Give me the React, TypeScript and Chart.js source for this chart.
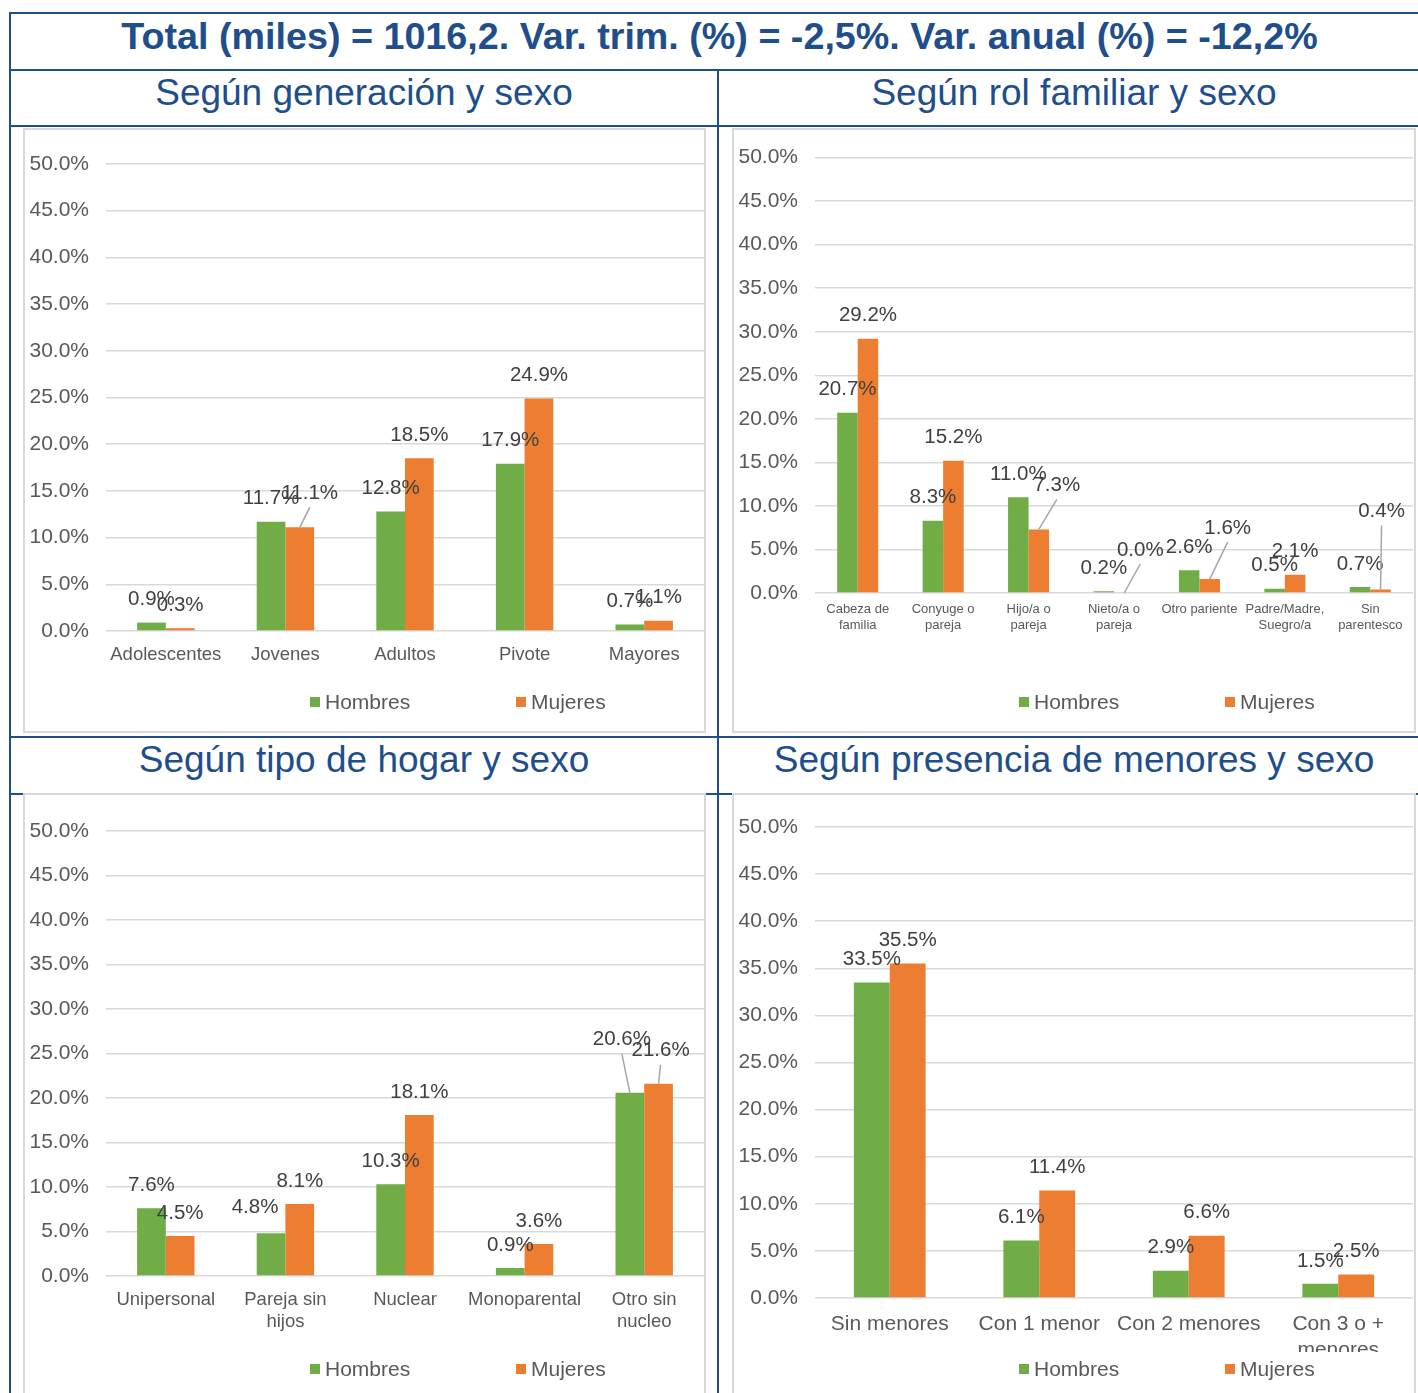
import React, { useEffect, useRef } from "react";
import { Chart, registerables } from "chart.js";

Chart.register(...registerables);

const FONT = "'Liberation Sans', Arial, Helvetica, sans-serif";
const BLUE = "#1F4E8C";
const GREEN = "#70AD47";
const ORANGE = "#ED7D31";
const AXIS_TEXT = "#595959";
const LABEL_TEXT = "#404040";
const GRID = "#D9D9D9";

// ---------- DATA ----------
const titleText = "Total (miles) = 1016,2. Var. trim. (%) = -2,5%. Var. anual (%) = -12,2%";
const seriesNames = ["Hombres", "Mujeres"];

const generacionTitle = "Según generación y sexo";
const generacionCategories = ["Adolescentes", "Jovenes", "Adultos", "Pivote", "Mayores"];
const generacionHombres = [0.9, 11.7, 12.8, 17.9, 0.7];
const generacionMujeres = [0.3, 11.1, 18.5, 24.9, 1.1];

const rolTitle = "Según rol familiar y sexo";
const rolCategories = [
  ["Cabeza de", "familia"],
  ["Conyuge o", "pareja"],
  ["Hijo/a o", "pareja"],
  ["Nieto/a o", "pareja"],
  "Otro pariente",
  ["Padre/Madre,", "Suegro/a"],
  ["Sin", "parentesco"],
];
const rolHombres = [20.7, 8.3, 11.0, 0.2, 2.6, 0.5, 0.7];
const rolMujeres = [29.2, 15.2, 7.3, 0.0, 1.6, 2.1, 0.4];

const hogarTitle = "Según tipo de hogar y sexo";
const hogarCategories = ["Unipersonal", ["Pareja sin", "hijos"], "Nuclear", "Monoparental", ["Otro sin", "nucleo"]];
const hogarHombres = [7.6, 4.8, 10.3, 0.9, 20.6];
const hogarMujeres = [4.5, 8.1, 18.1, 3.6, 21.6];

const menoresTitle = "Según presencia de menores y sexo";
const menoresCategories = ["Sin menores", "Con 1 menor", "Con 2 menores", ["Con 3 o +", "menores"]];
const menoresHombres = [33.5, 6.1, 2.9, 1.5];
const menoresMujeres = [35.5, 11.4, 6.6, 2.5];

const yMin = 0;
const yMax = 50;
const yStep = 5;

// ---------- PLUGINS ----------
const valueLabelsPlugin = {
  id: "valueLabels",
  afterDatasetsDraw(chart: any, _args: any, opts: any) {
    const ctx = chart.ctx;
    ctx.save();
    ctx.font = `${opts.size}px ${FONT}`;
    ctx.textAlign = "center";
    ctx.textBaseline = "middle";
    chart.data.datasets.forEach((ds: any, di: number) => {
      const meta = chart.getDatasetMeta(di);
      meta.data.forEach((bar: any, i: number) => {
        const v = ds.data[i];
        const n = (opts.nudges || {})[`${di}-${i}`];
        const dx = n ? n[0] : 0;
        const dy = n ? n[1] : 0;
        const lx = bar.x + dx;
        const ly = bar.y - opts.gap + dy;
        if (n && n[2]) {
          ctx.strokeStyle = "#A6A6A6";
          ctx.lineWidth = 1.5;
          ctx.beginPath();
          ctx.moveTo(bar.x, bar.y);
          ctx.lineTo(lx, ly + 14);
          ctx.stroke();
        }
        ctx.fillStyle = LABEL_TEXT;
        ctx.fillText(`${Number(v).toFixed(1)}%`, lx, ly);
      });
    });
    ctx.restore();
  },
};

const sexLegendPlugin = {
  id: "sexLegend",
  afterDraw(chart: any, _args: any, opts: any) {
    const ctx = chart.ctx;
    ctx.save();
    ctx.font = `${opts.size}px ${FONT}`;
    ctx.textAlign = "left";
    ctx.textBaseline = "middle";
    chart.data.datasets.forEach((ds: any, di: number) => {
      const x = opts.xs[di];
      ctx.fillStyle = ds.backgroundColor;
      ctx.fillRect(x, opts.y - 5, 10, 10);
      ctx.fillStyle = AXIS_TEXT;
      ctx.fillText(ds.label, x + 15, opts.y + 1);
    });
    ctx.restore();
  },
};

Chart.register(valueLabelsPlugin as any, sexLegendPlugin as any);

type Cfg = {
  left: number;
  top: number;
  w: number;
  h: number;
  areaTop: number;
  areaBottom: number;
  xFont: number;
  xPad: number;
  xHeight: number;
  nudges: Record<string, [number, number, boolean]>;
};

function BarPanel({ categories, hombres, mujeres, cfg }: { categories: any[]; hombres: number[]; mujeres: number[]; cfg: Cfg }) {
  const ref = useRef<HTMLCanvasElement | null>(null);
  useEffect(() => {
    if (!ref.current) return;
    const padBottom = cfg.h - cfg.areaBottom - cfg.xHeight;
    const chart = new Chart(ref.current, {
      type: "bar",
      data: {
        labels: categories,
        datasets: [
          { label: seriesNames[0], data: hombres, backgroundColor: GREEN, categoryPercentage: 0.48, barPercentage: 1 },
          { label: seriesNames[1], data: mujeres, backgroundColor: ORANGE, categoryPercentage: 0.48, barPercentage: 1 },
        ],
      },
      options: {
        responsive: false,
        animation: false,
        devicePixelRatio: 1,
        layout: { padding: { top: cfg.areaTop, right: 1, bottom: padBottom, left: 0 } },
        plugins: {
          legend: { display: false },
          tooltip: { enabled: false },
          valueLabels: { size: 20.5, gap: 23, nudges: cfg.nudges },
          sexLegend: { size: 21, xs: [286, 492], y: 574 },
        } as any,
        scales: {
          x: {
            grid: { display: false, drawTicks: false },
            border: { display: false },
            ticks: {
              color: AXIS_TEXT,
              font: { family: FONT, size: cfg.xFont },
              padding: cfg.xPad,
              maxRotation: 0,
              minRotation: 0,
              autoSkip: false,
            },
            afterFit: (s: any) => {
              s.height = cfg.xHeight;
            },
          },
          y: {
            min: yMin,
            max: yMax,
            ticks: {
              stepSize: yStep,
              color: AXIS_TEXT,
              font: { family: FONT, size: 21 },
              padding: 17,
              callback: (v: any) => `${Number(v).toFixed(1)}%`,
            },
            grid: { color: GRID, lineWidth: 1.5, drawTicks: false },
            border: { display: false },
            afterFit: (s: any) => {
              s.width = 82;
            },
          },
        },
      } as any,
    });
    return () => chart.destroy();
  }, []);
  return (
    <canvas
      ref={ref}
      width={cfg.w}
      height={cfg.h}
      style={{ position: "absolute", left: cfg.left, top: cfg.top, width: cfg.w, height: cfg.h }}
    />
  );
}

function HLine({ x, y, w, h }: { x: number; y: number; w: number; h: number }) {
  return <div style={{ position: "absolute", left: x, top: y, width: w, height: h, background: BLUE }} />;
}

function Frame({ x, y, w, h }: { x: number; y: number; w: number; h: number }) {
  return (
    <div
      style={{
        position: "absolute",
        left: x,
        top: y,
        width: w,
        height: h,
        background: "#FFFFFF",
        border: `2px solid ${GRID}`,
        boxSizing: "border-box",
      }}
    />
  );
}

function Caption({ text, x, y, w, size, bold }: { text: string; x: number; y: number; w: number; size: number; bold?: boolean }) {
  return (
    <div
      style={{
        position: "absolute",
        left: x,
        top: y,
        width: w,
        height: 40,
        lineHeight: "40px",
        textAlign: "center",
        fontFamily: FONT,
        fontSize: size,
        fontWeight: bold ? 700 : 400,
        color: BLUE,
        whiteSpace: "nowrap",
      }}
    >
      {text}
    </div>
  );
}

const cfg1: Cfg = { left: 24, top: 128, w: 681, h: 604, areaTop: 36, areaBottom: 503, xFont: 18.5, xPad: 13, xHeight: 40, nudges: { "1-1": [10, -11, true] } };
const cfg2: Cfg = {
  left: 733, top: 128, w: 681, h: 604, areaTop: 29, areaBottom: 465, xFont: 13, xPad: 9, xHeight: 45,
  nudges: { "1-2": [18, -21, true], "1-3": [16, -20, true], "1-4": [18, -28, true], "1-6": [1, -55, true] },
};
const cfg3: Cfg = {
  left: 24, top: 795, w: 681, h: 598, areaTop: 36, areaBottom: 481, xFont: 18.5, xPad: 13, xHeight: 65,
  nudges: { "0-1": [-16, -3, false], "0-4": [-8, -30, true], "1-4": [2, -10, true] },
};
const cfg4: Cfg = { left: 733, top: 795, w: 681, h: 598, areaTop: 32, areaBottom: 503, xFont: 21, xPad: 14, xHeight: 54, nudges: {} };

export default function App() {
  return (
    <div style={{ position: "absolute", left: 0, top: 0, width: 1418, height: 1393, overflow: "hidden", background: "#FFFFFF" }}>
      <HLine x={9} y={12} w={1409} h={2} />
      <HLine x={9} y={12} w={2} h={1381} />
      <HLine x={9} y={69} w={1409} h={2} />
      <HLine x={9} y={125} w={1409} h={2} />
      <HLine x={717} y={69} w={2} h={1324} />
      <HLine x={9} y={736} w={1409} h={2} />
      <HLine x={9} y={793} w={1409} h={2} />

      <Frame x={23} y={128} w={683} h={605} />
      <Frame x={732} y={128} w={684} h={605} />
      <Frame x={23} y={793} w={683} h={620} />
      <Frame x={732} y={793} w={684} h={620} />

      <Caption text={titleText} x={0} y={16} w={1439} size={37.7} bold />
      <Caption text={generacionTitle} x={0} y={73} w={728} size={37} />
      <Caption text={rolTitle} x={718} y={73} w={712} size={37} />
      <Caption text={hogarTitle} x={0} y={740} w={728} size={37} />
      <Caption text={menoresTitle} x={718} y={740} w={712} size={37} />

      <BarPanel categories={generacionCategories} hombres={generacionHombres} mujeres={generacionMujeres} cfg={cfg1} />
      <BarPanel categories={rolCategories} hombres={rolHombres} mujeres={rolMujeres} cfg={cfg2} />
      <BarPanel categories={hogarCategories} hombres={hogarHombres} mujeres={hogarMujeres} cfg={cfg3} />
      <BarPanel categories={menoresCategories} hombres={menoresHombres} mujeres={menoresMujeres} cfg={cfg4} />
    </div>
  );
}
